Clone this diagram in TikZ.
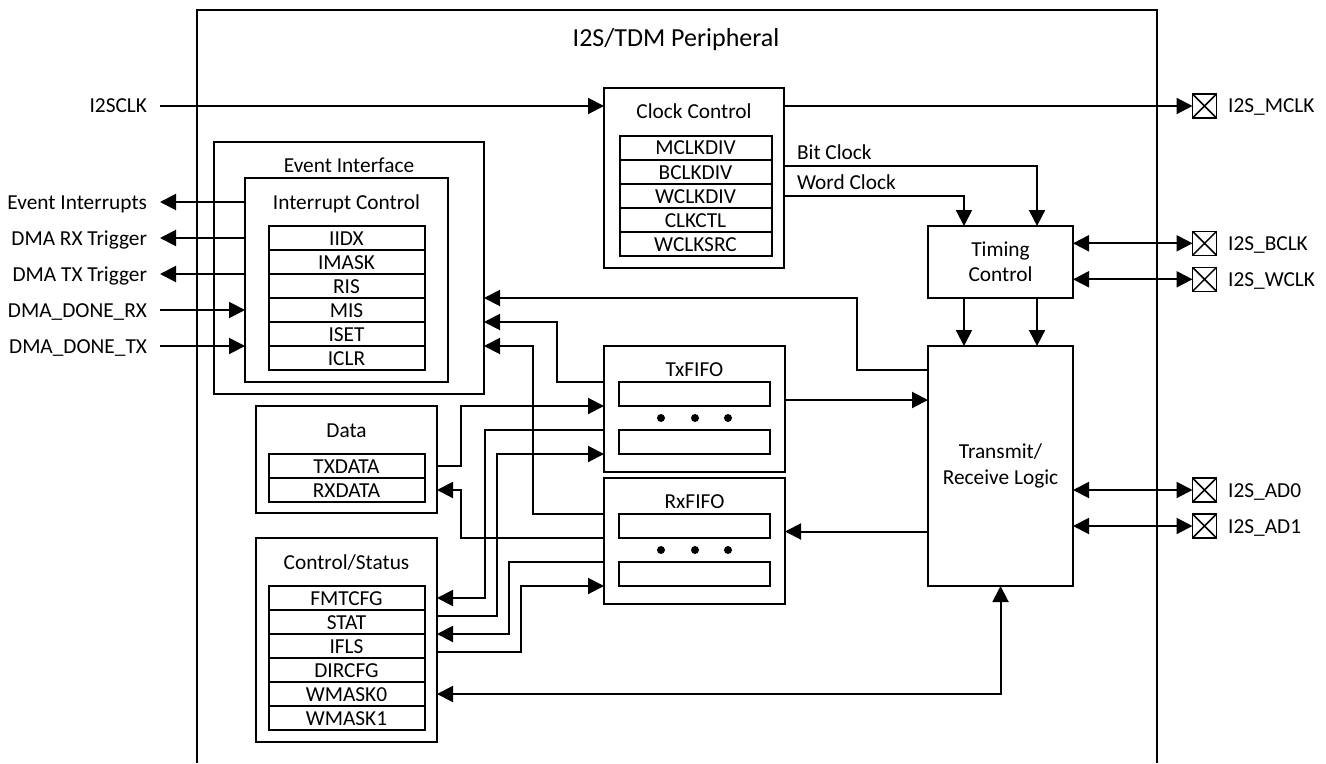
\documentclass[tikz,border=0pt]{standalone}
\usepackage{fontspec}
\setmainfont{Carlito}
\usetikzlibrary{positioning,arrows.meta}

\begin{document}
\begin{tikzpicture}[
  x=0.75pt, y=-0.75pt, line width=1.5pt,
  font=\fontsize{16}{19}\selectfont,
  blk/.style={draw, inner sep=0pt, outer sep=0pt},
  reg/.style={draw, inner sep=0pt, outer sep=0pt, minimum width=117pt, minimum height=18pt,
    text height=10.5pt, text depth=0pt},
  slot/.style={draw, inner sep=0pt, outer sep=0pt, minimum width=113.25pt, minimum height=18pt},
  ttl/.style={inner sep=0pt, text height=10.5pt, text depth=0pt},
  sig/.style={anchor=east, inner xsep=9pt, inner ysep=0pt, text height=10.5pt, text depth=0pt},
  pad/.style={draw, line width=1.1pt, minimum size=18pt, inner sep=0pt, outer sep=0pt,
    path picture={\draw[line width=1.1pt] (path picture bounding box.north west) -- (path picture bounding box.south east)
      (path picture bounding box.south west) -- (path picture bounding box.north east);}},
  arr/.style={-{Triangle[length=12pt,width=12pt]}},
  darr/.style={{Triangle[length=12pt,width=12pt]}-{Triangle[length=12pt,width=12pt]}}
]
\useasboundingbox (0,0) rectangle (1326,763);
\draw (197,763) -- (197,10) -- (1157,10) -- (1157,763);
\node[ttl, font=\fontsize{19.5}{23}\selectfont, text height=12.6pt] (perT) at (676,38) {I2S/TDM Peripheral};

\node[blk, minimum width=202.5pt, minimum height=189pt] (ev) at (349,268) {};
\node[ttl] (evT) at (349,165) {Event Interface};
\node[blk, minimum width=152.25pt, minimum height=153pt] (ic) at (346.5,280) {};
\node[ttl] (icT) at (346.5,202) {Interrupt Control};
\foreach \r [count=\i] in {IIDX,IMASK,RIS,MIS,ISET,ICLR}
  \node[reg] (ir\i) at (346.5,{214+24*\i}) {\r};

\node[blk, minimum width=135pt, minimum height=135pt] (clk) at (694,178) {};
\node[ttl] (clkT) at (694,112) {Clock Control};
\foreach \r [count=\i] in {MCLKDIV,BCLKDIV,WCLKDIV,CLKCTL,WCLKSRC}
  \node[reg, minimum width=114pt] (cr\i) at (695.5,{124+24*\i}) {\r};

\node[blk, minimum width=108.75pt, minimum height=54pt, align=center] (tim) at (1000.5,262) {Timing\\Control};
\node[blk, minimum width=108.75pt, minimum height=180pt, align=center] (tr) at (1000.5,466) {Transmit/\\Receive Logic};

\node[blk, minimum width=135.75pt, minimum height=94.5pt] (tx) at (694.5,409) {};
\node[ttl] (txT) at (694.5,369.5) {TxFIFO};
\node[slot] (tx1) at (694.5,394) {};
\node[slot] (tx2) at (694.5,442) {};
\node[blk, minimum width=135.75pt, minimum height=94.5pt] (rx) at (694.5,541) {};
\node[ttl] (rxT) at (694.5,501.7) {RxFIFO};
\node[slot] (rx1) at (694.5,526) {};
\node[slot] (rx2) at (694.5,574) {};
\foreach \x in {661,695,728} {
  \fill (\x,418) circle (3pt);
  \fill (\x,550) circle (3pt);
}

\node[blk, minimum width=135.75pt, minimum height=80.25pt] (dt) at (346.5,459.5) {};
\node[ttl] (dtT) at (346.5,430) {Data};
\node[reg] (dr1) at (346.5,466) {TXDATA};
\node[reg] (dr2) at (346.5,490) {RXDATA};

\node[blk, minimum width=135.75pt, minimum height=153pt] (cs) at (346.5,640) {};
\node[ttl] (csT) at (346.5,562) {Control/Status};
\foreach \r [count=\i] in {FMTCFG,STAT,IFLS,DIRCFG,WMASK0,WMASK1}
  \node[reg] (cs\i) at (346.5,{574+24*\i}) {\r};

\node[pad] (pM) at (1204.5,106) {};
\node[pad] (pB) at (1204.5,243.3) {};
\node[pad] (pW) at (1204.5,279.3) {};
\node[pad] (pA0) at (1204.5,490) {};
\node[pad] (pA1) at (1204.5,526) {};
\node[ttl, right=8pt of pM] (pMT) {I2S\_MCLK};
\node[ttl, right=8pt of pB] (pBT) {I2S\_BCLK};
\node[ttl, right=8pt of pW] (pWT) {I2S\_WCLK};
\node[ttl, right=8pt of pA0] (pA0T) {I2S\_AD0};
\node[ttl, right=8pt of pA1] (pA1T) {I2S\_AD1};

\node[sig] (sclk) at (160,106) {I2SCLK};
\node[sig] (sEI) at (160,202) {Event Interrupts};
\node[sig] (sRX) at (160,238) {DMA RX Trigger};
\node[sig] (sTX) at (160,274) {DMA TX Trigger};
\node[sig] (sDR) at (160,310) {DMA\_DONE\_RX};
\node[sig] (sDT) at (160,346) {DMA\_DONE\_TX};

\draw[arr] (sclk.east) -- (clk.west |- sclk);
\draw[arr] (clk.east |- pM) -- (pM.west);
\draw[arr] (ic.west |- sEI) -- (sEI.east);
\draw[arr] (ic.west |- sRX) -- (sRX.east);
\draw[arr] (ic.west |- sTX) -- (sTX.east);
\draw[arr] (sDR.east) -- (ic.west |- sDR);
\draw[arr] (sDT.east) -- (ic.west |- sDT);

\draw[arr] (clk.east |- 0,166) node[ttl, anchor=south west, xshift=9pt, yshift=4.5pt] {Bit Clock}
  -| ([xshift=27.4pt]tim.north);
\draw[arr] (clk.east |- 0,196) node[ttl, anchor=south west, xshift=9pt, yshift=4.5pt] {Word Clock}
  -| ([xshift=-27.4pt]tim.north);
\draw[arr] ([xshift=-27.4pt]tim.south) -- ([xshift=-27.4pt]tr.north);
\draw[arr] ([xshift=27.4pt]tim.south) -- ([xshift=27.4pt]tr.north);
\draw[darr] (tim.east |- pB) -- (pB.west);
\draw[darr] (tim.east |- pW) -- (pW.west);
\draw[darr] (tr.east |- pA0) -- (pA0.west);
\draw[darr] (tr.east |- pA1) -- (pA1.west);

\draw[arr] (tx.east |- 0,400) -- (tr.west |- 0,400);
\draw[arr] (tr.west |- 0,531.5) -- (rx.east |- 0,531.5);
\draw[darr] (cs.east |- cs5) -| (tr.south);

\draw[arr] (tr.west |- 0,370) -- (857,370) -- (857,298) -- (ev.east |- 0,298);
\draw[arr] (tx.west |- 0,382) -- (557,382) -- (557,322) -- (ev.east |- 0,322);
\draw[arr] (rx.west |- 0,514) -- (533,514) -- (533,346) -- (ev.east |- 0,346);

\draw[arr] (dt.east |- dr1) -- (461,466) -- (461,406) -- (tx.west |- 0,406);
\draw[arr] (tx.west |- 0,430) -- (485,430) -- (485,598) -- (cs.east |- cs1);
\draw[arr] (cs.east |- 0,616) -- (497,616) -- (497,454) -- (tx.west |- 0,454);
\draw[arr] (rx.west |- 0,538) -- (461,538) -- (461,490) -- (dt.east |- dr2);
\draw[arr] (rx.west |- 0,562) -- (508.5,562) -- (508.5,634) -- (cs.east |- 0,634);
\draw[arr] (cs.east |- 0,652) -- (521,652) -- (521,586) -- (rx.west |- 0,586);
\end{tikzpicture}
\end{document}
